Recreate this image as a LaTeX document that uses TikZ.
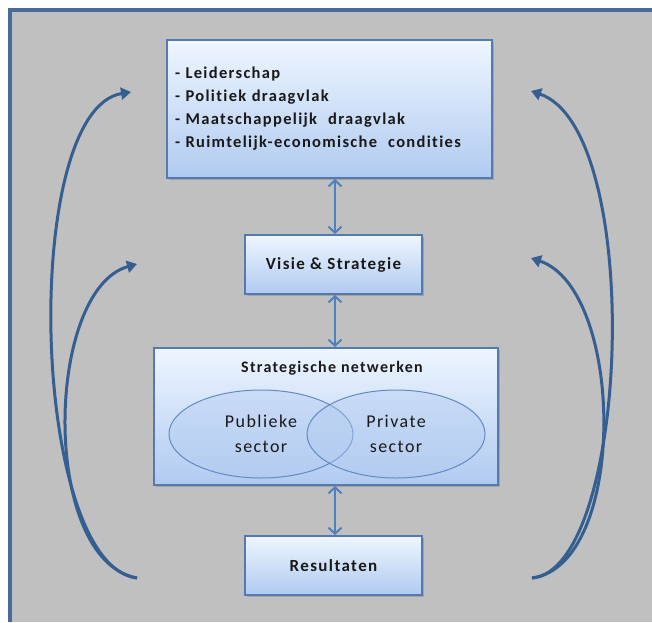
\documentclass[tikz,border=0pt]{standalone}
\usepackage{fontspec}
\setmainfont{Carlito}
\newfontfamily\boxfont[LetterSpace=8,Ligatures=NoCommon]{Carlito}
\usetikzlibrary{arrows.meta,shapes.geometric,shadows}

\definecolor{panelgrey}{RGB}{192,192,192}
\definecolor{panelblue}{RGB}{74,106,154}
\definecolor{curveblue}{RGB}{54,95,145}
\definecolor{linkblue}{RGB}{79,129,189}
\definecolor{boxedge}{RGB}{84,122,176}
\definecolor{boxtop}{RGB}{238,246,255}
\definecolor{boxblue}{RGB}{176,202,240}
\definecolor{ellipseedge}{RGB}{100,138,196}

\begin{document}
\begin{tikzpicture}[x=1pt,y=-1pt,
    box/.style={rectangle,draw=boxedge,line width=2pt,top color=boxtop,bottom color=boxblue,
      drop shadow={shadow xshift=2pt,shadow yshift=-2pt,opacity=0.45},
      text=black!90,inner sep=0pt},
    sector/.style={ellipse,draw=ellipseedge,line width=1pt,fill=boxblue,fill opacity=0.4,
      text opacity=1,text=black!90,align=center,inner sep=0pt,
      font=\boxfont\fontsize{18}{25}\selectfont},
    link/.style={{Straight Barb[length=6pt,width=13pt,line width=2pt]}-{Straight Barb[length=6pt,width=13pt,line width=2pt]},
      linkblue,line width=2.2pt},
    loop/.style={-{Triangle[length=10pt,width=12pt]},curveblue,line width=3pt}]
    \useasboundingbox (0,0) rectangle (652,622);
    \fill[white] (0,0) rectangle (652,622);
    \fill[panelgrey] (9,9) rectangle (652,622);
    \draw[panelblue,line width=4pt] (9.5,622) -- (9.5,9.5) -- (652,9.5);

    % feedback loops
    \coordinate (lstart) at (137,578);
    \coordinate (ltop) at (131,92);
    \coordinate (lmid) at (137,264);
    \coordinate (rstart) at (532,578);
    \coordinate (rtop) at (531,91);
    \coordinate (rmid) at (531,258);
    \draw[loop] (lstart) .. controls (30,565) and (20,110) .. (ltop);
    \draw[loop] (lstart) .. controls (40,560) and (45,290) .. (lmid);
    \draw[loop] (rstart) .. controls (630,570) and (645,130) .. (rtop);
    \draw[loop] (rstart) .. controls (628,565) and (625,290) .. (rmid);

    % main boxes
    \node[box,minimum width=325,minimum height=138,text width=309,align=left,
      font=\boxfont\bfseries\fontsize{16.5}{23}\selectfont] (factors) at (329.5,109)
      {- Leiderschap\\- Politiek draagvlak\\- Maatschappelijk\ \ draagvlak\\- Ruimtelijk-economische\ \ condities};
    \node[box,minimum width=177,minimum height=59,font=\boxfont\bfseries\fontsize{17}{20}\selectfont]
      (visie) at (333.5,264.5) {Visie \& Strategie};
    \node[box,minimum width=344,minimum height=137] (netw) at (326,416.5) {};
    \node[font=\boxfont\bfseries\fontsize{16}{20}\selectfont,text=black!90] (netwtitle) at (332,368)
      {Strategische netwerken};
    \node[sector,minimum width=184,minimum height=88] (pub) at (261,434) {Publieke\\sector};
    \node[sector,minimum width=178,minimum height=88] (priv) at (396,434) {Private\\sector};
    \node[box,minimum width=177,minimum height=59,font=\boxfont\bfseries\fontsize{17}{20}\selectfont]
      (result) at (333.5,565.5) {Resultaten};

    % links
    \draw[link] (visie.north -| 335,0) -- (factors.south -| 335,0);
    \draw[link] (visie.south -| 335,0) -- (netw.north -| 335,0);
    \draw[link] (result.north -| 335,0) -- (netw.south -| 335,0);
\end{tikzpicture}
\end{document}
